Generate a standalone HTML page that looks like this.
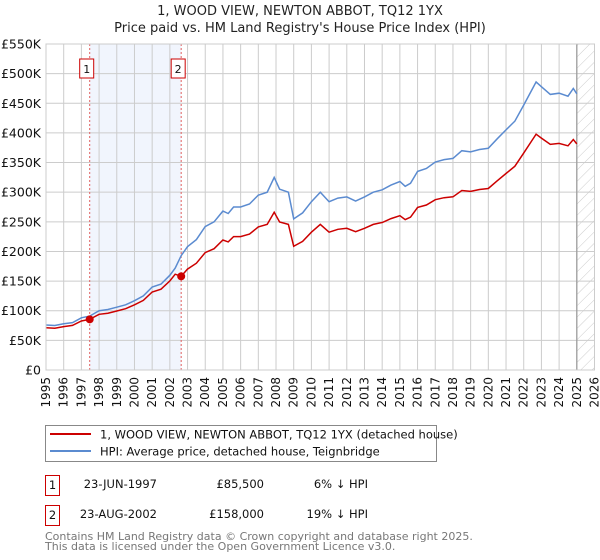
<!DOCTYPE html>
<html><head><meta charset="utf-8"><style>
body{margin:0;background:#fff;font-family:"DejaVu Sans","Liberation Sans",sans-serif;}
svg{display:block}
</style></head><body>
<svg id="c" width="600" height="560" xmlns="http://www.w3.org/2000/svg" font-family="DejaVu Sans, Liberation Sans, sans-serif">
<text x="300" y="15" text-anchor="middle" font-size="13" fill="#222">1, WOOD VIEW, NEWTON ABBOT, TQ12 1YX</text>
<text x="300" y="32" text-anchor="middle" font-size="13" fill="#222">Price paid vs. HM Land Registry's House Price Index (HPI)</text>
<g id="plot"></g>
<g>
<rect x="45.5" y="425.5" width="391" height="36" fill="#fff" stroke="#888"/>
<line x1="50" y1="434" x2="91" y2="434" stroke="#cc0000" stroke-width="2"/>
<text x="100" y="438.5" font-size="11.5" fill="#111">1, WOOD VIEW, NEWTON ABBOT, TQ12 1YX (detached house)</text>
<line x1="50" y1="451" x2="91" y2="451" stroke="#5b8bd0" stroke-width="2"/>
<text x="100" y="455.5" font-size="11.5" fill="#111">HPI: Average price, detached house, Teignbridge</text>
</g>
<g font-size="11.5" fill="#111">
<rect x="45.5" y="475.5" width="14" height="20" fill="none" stroke="#cc0000"/>
<text x="52.5" y="489" text-anchor="middle">1</text>
<text x="157" y="488" text-anchor="end">23-JUN-1997</text>
<text x="264" y="488" text-anchor="end">£85,500</text>
<text x="368" y="488" text-anchor="end">6% ↓ HPI</text>
<rect x="45.5" y="505.5" width="14" height="20" fill="none" stroke="#cc0000"/>
<text x="52.5" y="519" text-anchor="middle">2</text>
<text x="157" y="518" text-anchor="end">23-AUG-2002</text>
<text x="264" y="518" text-anchor="end">£158,000</text>
<text x="368" y="518" text-anchor="end">19% ↓ HPI</text>
</g>
<text x="45" y="540" font-size="11" fill="#777">Contains HM Land Registry data © Crown copyright and database right 2025.</text>
<text x="45" y="550" font-size="11" fill="#777">This data is licensed under the Open Government Licence v3.0.</text>
</svg>
<script>
const hpiYears=[1995,1995.5,1996,1996.5,1997,1997.47,1998,1998.5,1999,1999.5,2000,2000.5,2001,2001.5,2002,2002.3,2002.64,2003,2003.5,2004,2004.5,2005,2005.3,2005.6,2006,2006.5,2007,2007.5,2007.9,2008.2,2008.7,2009.0,2009.5,2010,2010.5,2011,2011.5,2012,2012.5,2013,2013.5,2014,2014.5,2015,2015.3,2015.6,2016,2016.5,2017,2017.5,2018,2018.5,2019,2019.5,2020,2020.5,2021,2021.5,2022,2022.5,2022.7,2023,2023.5,2024,2024.5,2024.8,2025.0];
const hpiValues=[76,75,78,80,88,91,100,102,106,110,117,125,140,145,160,172,193,208,220,242,250,268,264,275,275,280,295,300,325,305,300,255,265,284,300,284,290,292,285,292,300,304,312,318,310,315,335,340,351,355,357,370,368,372,374,390,405,420,447,475,486,478,465,467,462,475,466];
const saleYears=[1997.47,2002.64];
const salePrices=[85.5,158];
const saleLabels=["1","2"];
const yTicks=[0,50,100,150,200,250,300,350,400,450,500,550];
const yTickLabels=["£0","£50K","£100K","£150K","£200K","£250K","£300K","£350K","£400K","£450K","£500K","£550K"];
const xTicks=[];for(let y=1995;y<=2026;y++)xTicks.push(y);

const X0=46,X1=594.5,Y0=370,Y1=44;
const xs=t=>X0+(t-1995)*(X1-X0)/31;
const ys=v=>Y0-v*(Y0-Y1)/550;
const NS="http://www.w3.org/2000/svg";
const plot=document.getElementById('plot');
function mk(tag,attrs,parent){const e=document.createElementNS(NS,tag);for(const k in attrs)e.setAttribute(k,attrs[k]);(parent||plot).appendChild(e);return e;}
function hpiAt(t){for(let i=1;i<hpiYears.length;i++){if(t<=hpiYears[i]){const f=(t-hpiYears[i-1])/(hpiYears[i]-hpiYears[i-1]);return hpiValues[i-1]+f*(hpiValues[i]-hpiValues[i-1]);}}return hpiValues[hpiValues.length-1];}

// shaded region
let r=mk('rect',{x:xs(saleYears[0]),y:Y1,width:xs(saleYears[1])-xs(saleYears[0]),height:Y0-Y1,fill:'#eef3fc',opacity:0.8});


// hatch
const defs=mk('defs',{});
const pat=mk('pattern',{id:'h',width:8,height:8,patternUnits:'userSpaceOnUse',patternTransform:'rotate(45)'},defs);
mk('line',{x1:0,y1:0,x2:0,y2:8,stroke:'#ccc','stroke-width':1},pat);
let hr=mk('rect',{x:xs(2025),y:Y1,width:X1-xs(2025),height:Y0-Y1,fill:'url(#h)'});


// grid
xTicks.forEach(t=>{const l=mk('line',{x1:xs(t),x2:xs(t),y1:Y1,y2:Y0,stroke:'#ccc','stroke-width':1});


const tx=mk('text',{transform:`translate(${xs(t)+4},377) rotate(-90)`,'text-anchor':'end','font-size':12,fill:'#111'});
tx.textContent=t;

});
yTicks.forEach((v,i)=>{const l=mk('line',{x1:X0,x2:X1,y1:ys(v),y2:ys(v),stroke:'#ccc','stroke-width':1});


const tx=mk('text',{x:41,y:ys(v)+4.5,'text-anchor':'end','font-size':12.5,fill:'#111'});
tx.textContent=yTickLabels[i];

});
let vl=mk('line',{x1:xs(2025),x2:xs(2025),y1:Y1,y2:Y0,stroke:'#999','stroke-width':1.2});


// sale markers vlines
saleYears.forEach((t,i)=>{const l=mk('line',{x1:xs(t),x2:xs(t),y1:Y1,y2:Y0,stroke:'#e06060','stroke-width':1,'stroke-dasharray':'2,2'});


const b=mk('rect',{x:xs(t)-10,y:59,width:14,height:19,fill:'#fff',stroke:'#cc0000'});


const tx=mk('text',{x:xs(t)-3,y:73,'text-anchor':'middle','font-size':11,fill:'#111'});
tx.textContent=saleLabels[i];

});
// HPI line
let d=hpiYears.map((t,i)=>(i?'L':'M')+xs(t).toFixed(1)+','+ys(hpiValues[i]).toFixed(1)).join('');
let hp=mk('path',{d:d,fill:'none',stroke:'#5b8bd0','stroke-width':1.5});


// price line: HPI scaled by sale ratio
const r1=salePrices[0]/hpiAt(saleYears[0]),r2=salePrices[1]/hpiAt(saleYears[1]);
let pd='';
hpiYears.forEach((t,i)=>{const ratio=t<saleYears[1]?r1:r2;pd+=(i?'L':'M')+xs(t).toFixed(1)+','+ys(hpiValues[i]*ratio).toFixed(1);
if(hpiYears[i+1]===saleYears[1]){}});
let pp=mk('path',{d:pd,fill:'none',stroke:'#cc0000','stroke-width':1.5});


saleYears.forEach((t,i)=>{const c=mk('circle',{cx:xs(t),cy:ys(salePrices[i]),r:4,fill:'#cc0000'});

});
// axes frame
let fr=mk('rect',{x:X0,y:Y1,width:X1-X0,height:Y0-Y1,fill:'none',stroke:'#ccc'});


</script>
</body></html>
